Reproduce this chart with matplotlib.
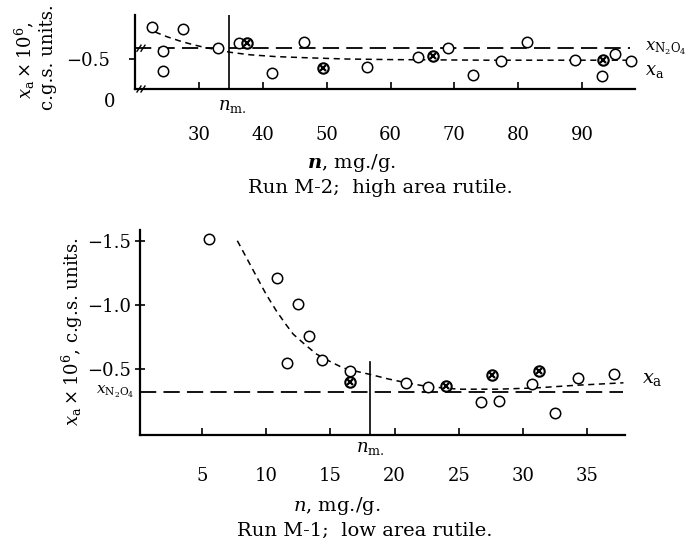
import matplotlib
matplotlib.use("Agg")
import matplotlib.pyplot as plt
from matplotlib.transforms import blended_transform_factory

plt.rcParams['font.family'] = ['DejaVu Serif']
plt.rcParams['mathtext.fontset'] = 'dejavuserif'

# ---------------- data: Run M-2 (top) ----------------
top_open_n = [22.6, 24.4, 24.4, 27.5, 33.0, 36.3, 41.4, 46.4, 56.3, 64.3, 69.0,
              72.9, 77.3, 81.4, 88.9, 93.1, 95.2, 97.7]
top_open_x = [-1.03, -0.63, -0.30, -1.00, -0.68, -0.77, -0.27, -0.78, -0.37, -0.53, -0.68,
              -0.23, -0.47, -0.78, -0.48, -0.22, -0.58, -0.47]
top_cross_n = [37.5, 49.4, 66.7, 93.3]
top_cross_x = [-0.77, -0.35, -0.55, -0.48]
top_curve_n = [23.1, 25.0, 27.0, 29.0, 31.0, 33.0, 35.0, 38.0, 42.0, 47.0, 53.0, 60.0, 75.0, 97.8]
top_curve_x = [-0.95, -0.87, -0.80, -0.74, -0.69, -0.65, -0.61, -0.57, -0.54, -0.52, -0.50,
               -0.49, -0.48, -0.48]
top_n2o4 = -0.68
top_n2o4_span = [20.0, 97.5]
top_nm = 34.7
top_xticks = [30, 40, 50, 60, 70, 80, 90]

# ---------------- data: Run M-1 (bottom) ----------------
bot_open_n = [5.54, 10.86, 12.45, 13.35, 11.64, 14.36, 16.54, 20.88, 22.6, 26.7, 28.1,
              30.7, 32.5, 34.3, 37.05]
bot_open_x = [-1.51, -1.21, -1.005, -0.753, -0.545, -0.566, -0.484, -0.39, -0.36, -0.242,
              -0.25, -0.378, -0.151, -0.425, -0.456]
bot_cross_n = [16.54, 23.98, 27.6, 31.2]
bot_cross_x = [-0.396, -0.367, -0.45, -0.484]
bot_curve_n = [7.75, 8.5, 9.3, 10.0, 10.8, 11.5, 12.1, 13.0, 13.9, 15.0, 16.0, 17.0, 18.1,
               19.5, 20.9, 22.6, 25.0, 28.0, 31.0, 34.0, 37.8]
bot_curve_x = [-1.50, -1.36, -1.21, -1.08, -0.95, -0.85, -0.77, -0.69, -0.615, -0.555,
               -0.505, -0.48, -0.455, -0.42, -0.39, -0.36, -0.34, -0.34, -0.35, -0.37, -0.39]
bot_n2o4 = -0.318
bot_n2o4_span = [0.2, 37.8]
bot_nm = 18.07
bot_nm_top = -0.55
bot_xticks = [5, 10, 15, 20, 25, 30, 35]
bot_yticks = [-1.5, -1.0, -0.5]

W, H = 693, 547
fig = plt.figure(figsize=(W / 100, H / 100), dpi=100)


def rect(x0, y0, x1, y1):
    return [x0 / W, 1 - y1 / H, (x1 - x0) / W, (y1 - y0) / H]


def fx(x):
    return x / W


def fy(y):
    return 1 - y / H


FS = 13
CFS = 14
K = 'black'


def style(ax):
    for s in ('top', 'right'):
        ax.spines[s].set_visible(False)
    for s in ('left', 'bottom'):
        ax.spines[s].set_linewidth(1.6)
        ax.spines[s].set_color(K)


def points(ax, on, ox, cn, cx):
    ax.plot(on, ox, 'o', ms=7.5, mfc='white', mec=K, mew=1.1, zorder=5, clip_on=False)
    ax.plot(cn, cx, 'o', ms=7.5, mfc='white', mec=K, mew=1.5, zorder=5, clip_on=False)
    ax.plot(cn, cx, 'x', ms=4.5, mec=K, mew=1.6, zorder=6, clip_on=False)


# ---------------- top axes ----------------
ax1 = fig.add_axes(rect(135, 15, 635, 89))
style(ax1)
ax1.set_xlim(19.97, 98.3)
ax1.set_ylim(0, -1.233)
ax1.plot(top_n2o4_span, [top_n2o4, top_n2o4], color=K, lw=1.3, dashes=(9, 4))
ax1.plot(top_curve_n, top_curve_x, color=K, lw=1.1, dashes=(4, 3))
ax1.axvline(top_nm, color=K, lw=1.2)
points(ax1, top_open_n, top_open_x, top_cross_n, top_cross_x)
ax1.set_xticks(top_xticks)
ax1.set_xticklabels([str(v) for v in top_xticks], fontsize=FS)
ax1.tick_params(axis='x', direction='in', length=5, width=1.2, pad=27)
ax1.set_yticks([-0.5])
ax1.set_yticklabels(['\u22120.5'], fontsize=FS)
ax1.tick_params(axis='y', direction='out', length=4, width=1.2, pad=14)
ytr = blended_transform_factory(ax1.transAxes, ax1.transData)
ax1.text(-0.05, -0.18, '0', transform=ax1.transAxes, fontsize=FS, ha='center', va='center')
# break marks
for yy in (top_n2o4, 0.0):
    for dx in (-0.004, 0.004):
        ax1.plot([0.012 + dx - 0.004, 0.012 + dx + 0.004], [yy + 0.05, yy - 0.05],
                 transform=ytr, color=K, lw=1.0, clip_on=False)
ax1.text(1.02, top_n2o4, r'$x_{\mathrm{N_2O_4}}$', transform=ytr, fontsize=FS - 1,
         ha='left', va='center')
ax1.text(1.02, -0.45, r'$x_{\mathrm{a}}$', transform=ytr, fontsize=FS,
         ha='left', va='top')
fig.text(fx(232), fy(106), r'$n_{\mathrm{m.}}$', fontsize=FS, ha='center', va='center')

fig.text(fx(25), fy(60), r'$x_{\mathrm{a}}\times 10^6$,', rotation=90, fontsize=FS,
         ha='center', va='center')
fig.text(fx(48), fy(57), 'c.g.s. units.', rotation=90, fontsize=FS, ha='center', va='center')
fig.text(fx(352), fy(163), r'$\boldsymbol{n}$, mg./g.', fontsize=CFS, ha='center', va='center')
fig.text(fx(380), fy(188), 'Run M-2;  high area rutile.', fontsize=CFS, ha='center',
         va='center')

# ---------------- bottom axes ----------------
ax2 = fig.add_axes(rect(140, 230, 625, 434.7))
style(ax2)
ax2.set_xlim(0.175, 37.92)
ax2.set_ylim(0.0156, -1.584)
ax2.plot(bot_n2o4_span, [bot_n2o4, bot_n2o4], color=K, lw=1.3, dashes=(9, 4))
ax2.plot(bot_curve_n, bot_curve_x, color=K, lw=1.1, dashes=(4, 3))
ax2.plot([bot_nm, bot_nm], [0.0156, bot_nm_top], color=K, lw=1.2)
points(ax2, bot_open_n, bot_open_x, bot_cross_n, bot_cross_x)
ax2.set_xticks(bot_xticks)
ax2.set_xticklabels([str(v) for v in bot_xticks], fontsize=FS)
ax2.tick_params(axis='x', direction='in', length=5, width=1.2, pad=23)
ax2.set_yticks(bot_yticks)
ax2.set_yticklabels(['\u2212%.1f' % abs(v) for v in bot_yticks], fontsize=FS)
ax2.tick_params(axis='y', direction='inout', length=7, width=1.2, pad=3)
ytr2 = blended_transform_factory(ax2.transAxes, ax2.transData)
ax2.text(-0.012, bot_n2o4, r'$x_{\mathrm{N_2O_4}}$', transform=ytr2, fontsize=FS - 2,
         ha='right', va='center')
ax2.text(1.035, bot_curve_x[-1] - 0.03, r'$x_{\mathrm{a}}$', transform=ytr2, fontsize=FS + 1,
         ha='left', va='center')
fig.text(fx(370), fy(448), r'$n_{\mathrm{m.}}$', fontsize=FS, ha='center', va='center')
fig.text(fx(72), fy(332), r'$x_{\mathrm{a}}\times 10^6$, c.g.s. units.', rotation=90,
         fontsize=FS, ha='center', va='center')
fig.text(fx(337), fy(506), r'$n$, mg./g.', fontsize=CFS, ha='center', va='center')
fig.text(fx(365), fy(531), 'Run M-1;  low area rutile.', fontsize=CFS, ha='center',
         va='center')

fig.savefig('out.png', dpi=100)
